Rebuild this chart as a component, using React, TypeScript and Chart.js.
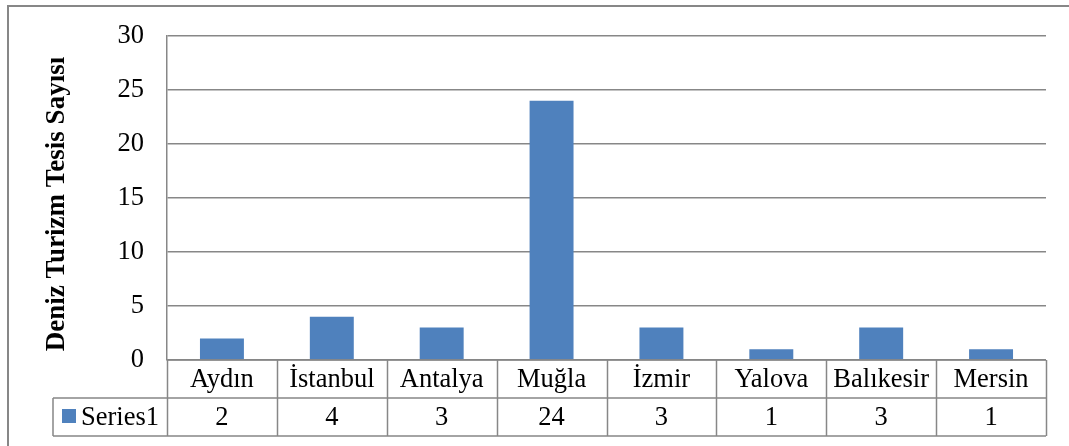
import React, { useEffect, useRef } from "react";
import { Chart, registerables } from "chart.js";

Chart.register(...registerables);

const categories = ["Aydın", "İstanbul", "Antalya", "Muğla", "İzmir", "Yalova", "Balıkesir", "Mersin"];
const seriesName = "Series1";
const seriesValues = [2, 4, 3, 24, 3, 1, 3, 1];
const yTitle = "Deniz Turizm Tesis Sayısı";
const yMin = 0;
const yMax = 30;
const yStep = 5;

const FONT = '"Liberation Serif", "Times New Roman", serif';
const BAR = "#4F81BD";
const LINE = "#878787";

const tablePlugin = {
  id: "dataTable",
  afterDraw(chart: any) {
    const ctx = chart.ctx;
    const area = chart.chartArea;
    const xs = chart.scales.x;
    const n = categories.length;
    const colW = (area.right - area.left) / n;
    const row1Top = area.bottom;
    const row1Bot = 398;
    const row2Bot = 436;
    const labelLeft = 53;
    ctx.save();
    // outer frame (left + top)
    ctx.strokeStyle = LINE;
    ctx.lineWidth = 2;
    ctx.beginPath();
    ctx.moveTo(8, 446);
    ctx.lineTo(8, 6);
    ctx.lineTo(1069, 6);
    ctx.stroke();

    // table lines
    ctx.lineWidth = 1.5;
    ctx.strokeStyle = LINE;
    ctx.beginPath();
    ctx.moveTo(area.left, row1Top);
    ctx.lineTo(area.right, row1Top);
    ctx.moveTo(labelLeft, row1Bot);
    ctx.lineTo(area.right, row1Bot);
    ctx.moveTo(labelLeft, row2Bot);
    ctx.lineTo(area.right, row2Bot);
    for (let i = 0; i <= n; i++) {
      const x = Math.round(area.left + i * colW) + 0.5;
      ctx.moveTo(x, row1Top);
      ctx.lineTo(x, row2Bot);
    }
    ctx.moveTo(labelLeft, row1Bot);
    ctx.lineTo(labelLeft, row2Bot);
    ctx.stroke();

    // texts
    ctx.fillStyle = "#000";
    ctx.font = `26.5px ${FONT}`;
    ctx.textAlign = "center";
    ctx.textBaseline = "middle";
    categories.forEach((c, i) => {
      const x = xs.getPixelForValue(i);
      ctx.fillText(c, x, (row1Top + row1Bot) / 2 + 1);
      ctx.fillText(String(seriesValues[i]), x, (row1Bot + row2Bot) / 2 + 1);
    });
    // legend key
    ctx.fillStyle = BAR;
    ctx.fillRect(62, 409, 14, 14);
    ctx.fillStyle = "#000";
    ctx.textAlign = "left";
    ctx.fillText(seriesName, 81, (row1Bot + row2Bot) / 2 + 1);

    // y title
    ctx.save();
    ctx.translate(57, 204);
    ctx.rotate(-Math.PI / 2);
    ctx.font = `bold 27px ${FONT}`;
    ctx.textAlign = "center";
    ctx.textBaseline = "middle";
    ctx.fillText(yTitle, 0, 0);
    ctx.restore();
    ctx.restore();
  },
};

export default function App() {
  const ref = useRef<HTMLCanvasElement>(null);
  useEffect(() => {
    document.body.style.margin = "0";
    const chart = new Chart(ref.current!, {
      type: "bar",
      data: {
        labels: categories,
        datasets: [
          {
            label: seriesName,
            data: seriesValues,
            backgroundColor: BAR,
            categoryPercentage: 0.5,
            barPercentage: 0.8,
          },
        ],
      },
      options: {
        animation: false,
        responsive: false,
        maintainAspectRatio: false,
        layout: { padding: { left: 0, top: 36, right: 23, bottom: 86 } },
        plugins: { legend: { display: false }, tooltip: { enabled: false } },
        scales: {
          x: { display: false },
          y: {
            min: yMin,
            max: yMax,
            ticks: {
              stepSize: yStep,
              padding: 23,
              color: "#000",
              font: { family: FONT, size: 26.5 },
            },
            grid: { color: LINE, lineWidth: 1.5, drawTicks: false },
            border: { display: true, color: LINE, width: 1.5 },
            afterFit: (s: any) => {
              s.width = 167;
              s.paddingTop = 0;
              s.paddingBottom = 0;
            },
          },
        },
      },
      plugins: [tablePlugin],
    });
    return () => chart.destroy();
  }, []);
  return (
    <div style={{ position: "absolute", left: 0, top: 0, width: 1069, height: 446, background: "#fff" }}>
      <canvas ref={ref} width={1069} height={446} />
    </div>
  );
}
